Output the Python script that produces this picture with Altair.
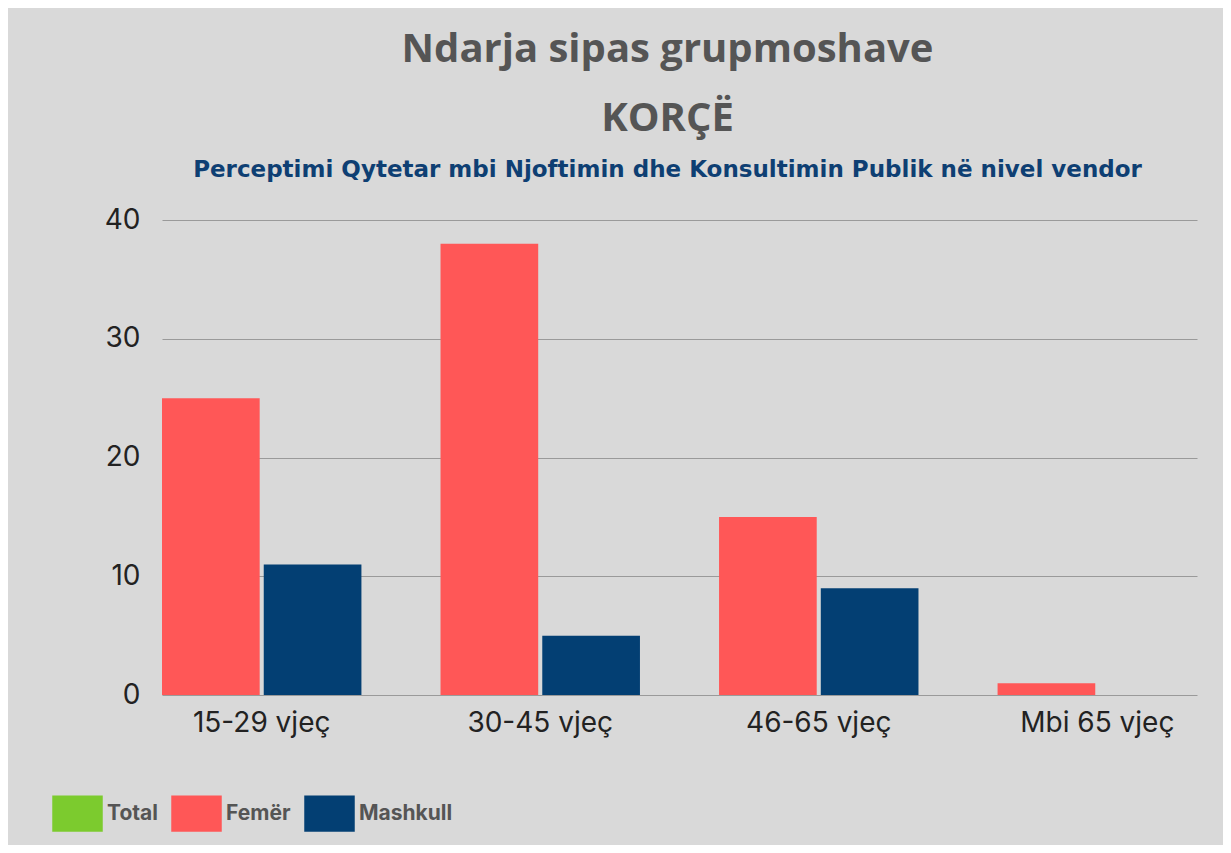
import altair as alt
import pandas as pd

categories = ["15-29 vjeç", "30-45 vjeç", "46-65 vjeç", "Mbi 65 vjeç"]
femer = [25, 38, 15, 1]
mashkull = [11, 5, 9, 0]
series = ["Total", "Femër", "Mashkull"]
colors = ["#7ccb2e", "#ff5757", "#033f73"]
y_ticks = [0, 10, 20, 30, 40]

rows = []
for c, f, m in zip(categories, femer, mashkull):
    rows.append({"group": c, "series": "Femër", "value": f})
    rows.append({"group": c, "series": "Mashkull", "value": m})
df = pd.DataFrame(rows)

rect_path = "M-1,-0.72H1V0.72H-1Z"

chart = alt.Chart(df).mark_bar().encode(
    x=alt.X("group:N", sort=categories, title=None,
            scale=alt.Scale(paddingInner=0.284, paddingOuter=0),
            axis=alt.Axis(labelAngle=0, domain=False, ticks=False, labelFontSize=28,
                          labelFont="Inter", labelColor="#222222", labelPadding=14)),
    xOffset=alt.XOffset("series:N", sort=["Femër", "Mashkull"],
                        scale=alt.Scale(paddingInner=0.04, paddingOuter=0)),
    y=alt.Y("value:Q", title=None,
            scale=alt.Scale(domain=[0, 40], nice=False),
            axis=alt.Axis(values=y_ticks, domain=False, ticks=False, labelFontSize=28,
                          labelFont="Inter", labelColor="#222222", labelPadding=22,
                          gridColor="#9a9a9a", gridWidth=1.2)),
    color=alt.Color("series:N",
                    scale=alt.Scale(domain=series, range=colors),
                    legend=alt.Legend(orient="none", legendX=-110, legendY=568,
                                      direction="horizontal", title=None,
                                      symbolType=rect_path, symbolSize=2550,
                                      symbolStrokeWidth=0, symbolOpacity=1,
                                      labelFont="Inter", labelFontSize=21,
                                      labelFontWeight="bold", labelColor="#555555",
                                      labelOffset=4, columnPadding=13)),
).properties(
    width=1035,
    height=475,
    padding={"left": 154, "top": 212, "right": 26, "bottom": 150},
    autosize=alt.AutoSizeParams(type="none"),
    background="#d9d9d9",
    title=alt.TitleParams(
        text=["Ndarja sipas grupmoshave", "KORÇË"],
        subtitle="Perceptimi Qytetar mbi Njoftimin dhe Konsultimin Publik në nivel vendor",
        anchor="middle", frame="group", dx=-12,
        font="Open Sans", fontSize=40, fontWeight="bold", color="#555555",
        lineHeight=69,
        subtitleFont="DejaVu Sans", subtitleFontSize=23, subtitleFontWeight="bold",
        subtitleColor="#0e3f73", subtitlePadding=20, offset=24,
    ),
).configure_view(stroke=None)

chart.save("out.html", embed_options={"renderer": "svg", "actions": False})
